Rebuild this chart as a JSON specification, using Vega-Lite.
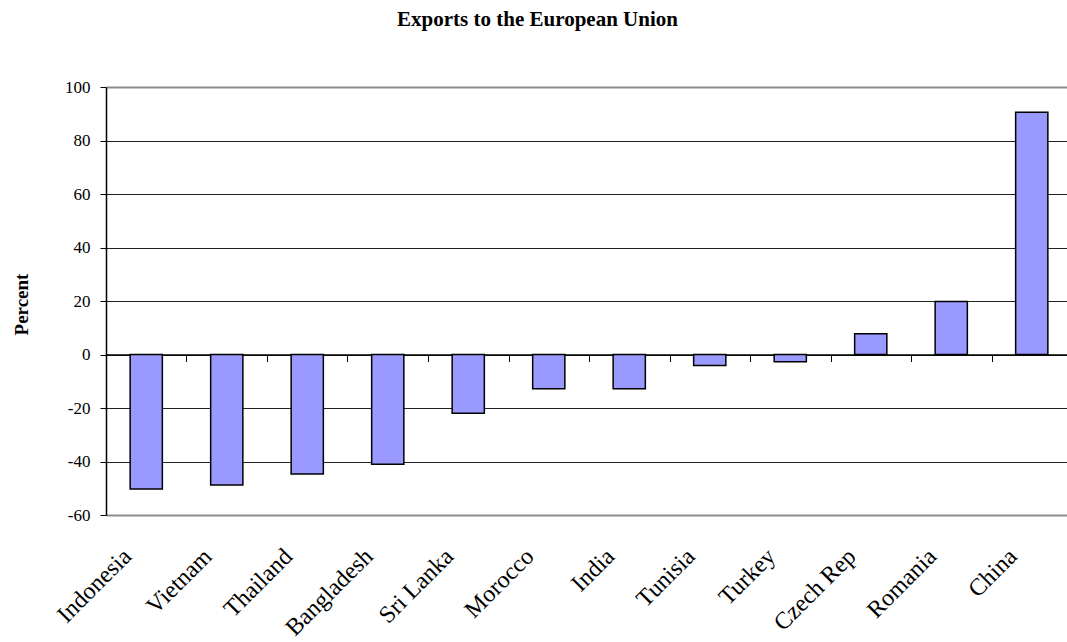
{
  "$schema": "https://vega.github.io/schema/vega-lite/v6.json",
  "autosize": {"type": "none"},
  "padding": {"left": 106, "top": 87, "right": 0, "bottom": 127},
  "width": 961,
  "height": 428,
  "background": "white",
  "config": {"view": {"stroke": null}, "font": "Liberation Serif"},
  "title": {
    "text": "Exports to the European Union",
    "font": "Liberation Serif",
    "fontSize": 21,
    "fontWeight": "bold",
    "color": "black",
    "anchor": "middle",
    "frame": "group",
    "dx": -49,
    "offset": 48
  },
  "data": {
    "values": [
      {"country": "Indonesia", "value": -50.3},
      {"country": "Vietnam", "value": -48.8},
      {"country": "Thailand", "value": -44.7},
      {"country": "Bangladesh", "value": -41.0},
      {"country": "Sri Lanka", "value": -22.0},
      {"country": "Morocco", "value": -12.8},
      {"country": "India", "value": -12.8},
      {"country": "Tunisia", "value": -4.1},
      {"country": "Turkey", "value": -2.7},
      {"country": "Czech Rep", "value": 7.8},
      {"country": "Romania", "value": 19.8},
      {"country": "China", "value": 90.6}
    ]
  },
  "resolve": {"axis": {"x": "independent"}},
  "layer": [
    {
      "mark": {"type": "bar", "fill": "#9999FF", "stroke": "black", "strokeWidth": 1.5},
      "encoding": {
        "x": {
          "field": "country",
          "type": "nominal",
          "sort": null,
          "scale": {"range": [0, 966], "paddingInner": 0.6, "paddingOuter": 0.3},
          "axis": {
            "title": null,
            "domain": false,
            "ticks": false,
            "grid": false,
            "labelAngle": -45,
            "labelAlign": "right",
            "labelBaseline": "top",
            "labelPadding": 29,
            "labelOffset": -27,
            "labelFont": "Liberation Serif",
            "labelFontSize": 24,
            "labelColor": "black"
          }
        },
        "y": {
          "field": "value",
          "type": "quantitative",
          "scale": {"domain": [-60, 100], "nice": false, "zero": false},
          "axis": {
            "title": "Percent",
            "titleFont": "Liberation Serif",
            "titleFontSize": 19,
            "titleFontWeight": "bold",
            "titleColor": "black",
            "titleX": -85,
            "titleY": 217,
            "titleAngle": -90,
            "titleAlign": "center",
            "titleBaseline": "middle",
            "values": [-60, -40, -20, 0, 20, 40, 60, 80, 100],
            "labelExpr": "'' + datum.value",
            "labelFont": "Liberation Serif",
            "labelFontSize": 17,
            "labelColor": "black",
            "labelPadding": 10,
            "tickSize": 6,
            "tickColor": "black",
            "domainColor": "black",
            "domainWidth": 1.5,
            "grid": true,
            "gridColor": {"condition": {"test": "datum.value == 100 || datum.value == -60", "value": "#8c8c8c"}, "value": "#222222"},
            "gridWidth": {"condition": {"test": "datum.value == 100 || datum.value == -60", "value": 2}, "value": 1},
            "gridOpacity": 1
          }
        }
      }
    },
    {
      "mark": {"type": "rule", "opacity": 0},
      "encoding": {
        "x": {
          "field": "country",
          "type": "nominal",
          "sort": null,
          "axis": {
            "title": null,
            "orient": "bottom",
            "offset": -160.5,
            "labels": false,
            "grid": false,
            "domain": true,
            "domainColor": "black",
            "domainWidth": 1.5,
            "ticks": true,
            "tickOffset": 40.25,
            "tickSize": 7,
            "tickColor": "black",
            "tickWidth": 1
          }
        }
      }
    }
  ]
}
